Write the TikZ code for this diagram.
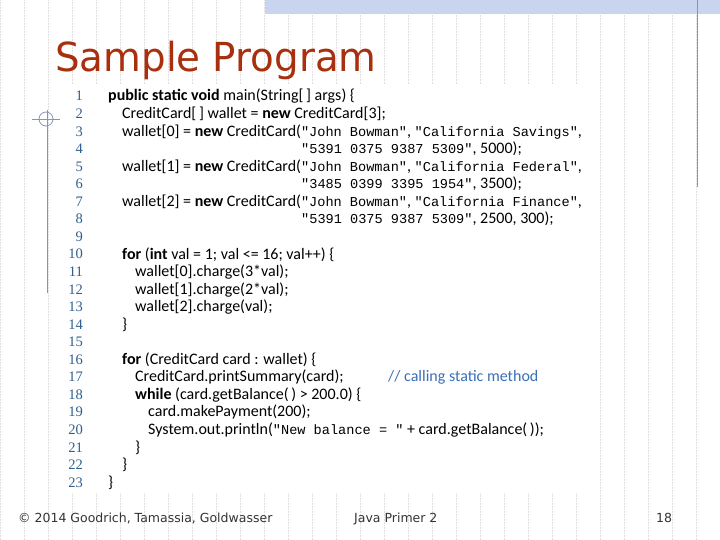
\documentclass[tikz,border=0pt]{standalone}
\usepackage{fontspec}
\setmainfont{Carlito}
\newfontfamily\codemono{Liberation Mono}
\newfontfamily\numfont{Liberation Serif}
\newfontfamily\titlefont{DejaVu Sans}
\definecolor{titlered}{HTML}{A8300E}
\definecolor{numblue}{HTML}{2F5F8F}
\definecolor{cmtblue}{HTML}{3A70B8}
\definecolor{gridgray}{HTML}{DEDEDE}
\definecolor{barblue}{HTML}{C9D5EE}
\definecolor{lineblue}{HTML}{8A92BC}
\tikzset{
  lnum/.style={anchor=base east,font=\numfont\fontsize{14.5}{14.5}\selectfont,text=numblue,inner sep=0pt},
  code/.style={anchor=base west,font=\fontsize{16}{16}\selectfont,inner sep=0pt},
  foot/.style={anchor=base west,font=\titlefont\fontsize{12.5}{12.5}\selectfont,text=black!80,inner sep=0pt},
}
\newcommand{\st}[1]{{\codemono\fontsize{13.6}{13.6}\selectfont #1}}
\begin{document}
\begin{tikzpicture}[x=1pt,y=-1pt]
\useasboundingbox (0,0) rectangle (720,540);
\fill[white] (0,0) rectangle (720,540);
\draw[gridgray,densely dotted,line width=0.6pt] (0,0) grid[step=24] (720,540);
\fill[barblue] (265,0) rectangle (720,14);
\fill[white] (62,84) rectangle (577,492);
\draw[lineblue,line width=1pt] (697,0) -- (697,187);
\draw[lineblue,line width=1pt] (47,110) -- (47,293);
\draw[lineblue,line width=0.8pt] (32,119) -- (60,119);
\draw[lineblue,line width=0.8pt] (46,119) circle (7);
\node[anchor=base west,inner sep=0pt,font=\titlefont\fontsize{40}{40}\selectfont,text=titlered,xscale=0.97] (title) at (55,72) {Sample Program};
\foreach \i in {1,...,23} {
  \node[lnum] (n\i) at (83,{101+(\i-1)*17.55}) {\i};
}
\node[code] (c1) at (108,101) {\textbf{public static void} main(String[\,] args) \{};
\node[code] (c2) at (122,118.6) {CreditCard[\,] wallet = \textbf{new} CreditCard[3];};
\node[code] (c3) at (122,136.1) {wallet[0] = \textbf{new} CreditCard(\st{"John Bowman"}, \st{"California Savings"},};
\node[code] (c4) at (301,153.7) {\st{"5391 0375 9387 5309"}, 5000);};
\node[code] (c5) at (122,171.2) {wallet[1] = \textbf{new} CreditCard(\st{"John Bowman"}, \st{"California Federal"},};
\node[code] (c6) at (301,188.8) {\st{"3485 0399 3395 1954"}, 3500);};
\node[code] (c7) at (122,206.3) {wallet[2] = \textbf{new} CreditCard(\st{"John Bowman"}, \st{"California Finance"},};
\node[code] (c8) at (301,223.9) {\st{"5391 0375 9387 5309"}, 2500, 300);};
\node[code] (c10) at (122,259) {\textbf{for} (\textbf{int} val = 1; val <= 16; val++) \{};
\node[code] (c11) at (135,276.5) {wallet[0].charge(3*val);};
\node[code] (c12) at (135,294.1) {wallet[1].charge(2*val);};
\node[code] (c13) at (135,311.6) {wallet[2].charge(val);};
\node[code] (c14) at (122,329.2) {\}};
\node[code] (c16) at (122,364.3) {\textbf{for} (CreditCard card : wallet) \{};
\node[code] (c17) at (135,381.8) {CreditCard.printSummary(card);};
\node[code,text=cmtblue] (cm) at (388,381.8) {// calling static method};
\node[code] (c18) at (135,399.4) {\textbf{while} (card.getBalance(\,) > 200.0) \{};
\node[code] (c19) at (148,416.9) {card.makePayment(200);};
\node[code] (c20) at (148,434.5) {System.out.println(\st{"New balance = "} + card.getBalance(\,));};
\node[code] (c21) at (135,452) {\}};
\node[code] (c22) at (122,469.6) {\}};
\node[code] (c23) at (108,487.1) {\}};
\node[foot] (f1) at (18,522) {© 2014 Goodrich, Tamassia, Goldwasser};
\node[foot] (f2) at (354,522) {Java Primer 2};
\node[foot] (f3) at (656,522) {18};
\end{tikzpicture}
\end{document}
